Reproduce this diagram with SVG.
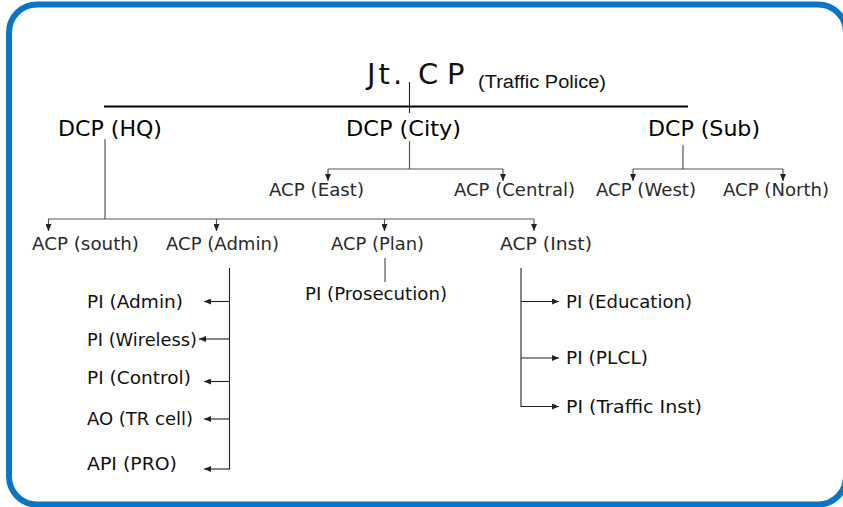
<svg xmlns="http://www.w3.org/2000/svg" width="843" height="507" viewBox="0 0 843 507">
<style>
.t{font-family:"DejaVu Sans","Verdana",sans-serif;fill:#111}
.dcp{font-size:21px;fill:#000}
.acp{font-size:18px;fill:#2a2a2a}
.pi{font-size:18px;fill:#111}
.c{stroke:#555;stroke-width:1.2;fill:none}
.k{stroke:#222;stroke-width:1.1;fill:none}
</style>
<defs>
<marker id="ah" markerUnits="userSpaceOnUse" markerWidth="8" markerHeight="6" refX="7" refY="3" orient="auto">
<path d="M0,0 L7,3 L0,6 z" fill="#222"/>
</marker>
</defs>
<rect x="9" y="4.5" width="837" height="500" rx="28" ry="28" fill="#fff" stroke="#0b75c5" stroke-width="6"/>

<g id="connectors">
<line x1="104" y1="106.5" x2="688" y2="106.5" stroke="#000" stroke-width="2"/>
<line class="k" x1="409.5" y1="82" x2="409.5" y2="113"/>
<!-- DCP HQ -->
<line class="c" x1="105" y1="139" x2="105" y2="219"/>
<line class="c" x1="48" y1="219" x2="534" y2="219"/>
<line class="c" x1="48.5" y1="219" x2="48.5" y2="231" marker-end="url(#ah)"/>
<line class="c" x1="216.5" y1="219" x2="216.5" y2="231" marker-end="url(#ah)"/>
<line class="c" x1="384.5" y1="219" x2="384.5" y2="231" marker-end="url(#ah)"/>
<line class="c" x1="534" y1="219" x2="534" y2="231" marker-end="url(#ah)"/>
<!-- DCP City -->
<line class="c" x1="409.5" y1="141" x2="409.5" y2="169"/>
<line class="c" x1="328" y1="169" x2="503" y2="169"/>
<line class="c" x1="328" y1="169" x2="328" y2="181" marker-end="url(#ah)"/>
<line class="c" x1="503" y1="169" x2="503" y2="181" marker-end="url(#ah)"/>
<!-- DCP Sub -->
<line class="c" x1="683" y1="145" x2="683" y2="169"/>
<line class="c" x1="633" y1="169" x2="783" y2="169"/>
<line class="c" x1="633" y1="169" x2="633" y2="181" marker-end="url(#ah)"/>
<line class="c" x1="783" y1="169" x2="783" y2="181" marker-end="url(#ah)"/>
<!-- ACP Plan -->
<line class="c" x1="385" y1="258" x2="385" y2="282"/>
<!-- ACP Admin -->
<line class="k" x1="229.5" y1="268" x2="229.5" y2="469.5"/>
<line class="k" x1="229.5" y1="301.5" x2="204" y2="301.5" marker-end="url(#ah)"/>
<line class="k" x1="229.5" y1="339" x2="199" y2="339" marker-end="url(#ah)"/>
<line class="k" x1="229.5" y1="381.5" x2="204" y2="381.5" marker-end="url(#ah)"/>
<line class="k" x1="229.5" y1="419" x2="204" y2="419" marker-end="url(#ah)"/>
<line class="k" x1="229.5" y1="469" x2="204" y2="469" marker-end="url(#ah)"/>
<!-- ACP Inst -->
<line class="k" x1="521" y1="268" x2="521" y2="407"/>
<line class="k" x1="521" y1="301.5" x2="559" y2="301.5" marker-end="url(#ah)"/>
<line class="k" x1="521" y1="358" x2="559" y2="358" marker-end="url(#ah)"/>
<line class="k" x1="521" y1="406.5" x2="559" y2="406.5" marker-end="url(#ah)"/>
</g>

<g id="jtcp">
<text class="t" y="84" font-size="29" fill="#000"><tspan x="367" letter-spacing="3">Jt.</tspan><tspan x="418">C</tspan><tspan x="447">P</tspan></text>
<text x="478" y="88" font-family="Liberation Sans, Arial, sans-serif" font-size="18" fill="#111" textLength="128" lengthAdjust="spacingAndGlyphs">(Traffic Police)</text>
</g>

<g id="dcp-hq"><text class="t dcp" x="58" y="136" textLength="104" lengthAdjust="spacingAndGlyphs">DCP (HQ)</text></g>
<g id="dcp-city"><text class="t dcp" x="346" y="136" textLength="115" lengthAdjust="spacingAndGlyphs">DCP (City)</text></g>
<g id="dcp-sub"><text class="t dcp" x="648" y="136" textLength="112" lengthAdjust="spacingAndGlyphs">DCP (Sub)</text></g>

<g id="acp-east"><text class="t acp" x="269" y="196" textLength="95" lengthAdjust="spacingAndGlyphs">ACP (East)</text></g>
<g id="acp-central"><text class="t acp" x="454" y="196" textLength="121" lengthAdjust="spacingAndGlyphs">ACP (Central)</text></g>
<g id="acp-west"><text class="t acp" x="596" y="196" textLength="100" lengthAdjust="spacingAndGlyphs">ACP (West)</text></g>
<g id="acp-north"><text class="t acp" x="723" y="196" textLength="106" lengthAdjust="spacingAndGlyphs">ACP (North)</text></g>

<g id="acp-south"><text class="t acp" x="32" y="250" textLength="107" lengthAdjust="spacingAndGlyphs">ACP (south)</text></g>
<g id="acp-admin"><text class="t acp" x="166" y="250" textLength="113" lengthAdjust="spacingAndGlyphs">ACP (Admin)</text></g>
<g id="acp-plan"><text class="t acp" x="331" y="250" textLength="93" lengthAdjust="spacingAndGlyphs">ACP (Plan)</text></g>
<g id="acp-inst"><text class="t acp" x="500" y="250" textLength="92" lengthAdjust="spacingAndGlyphs">ACP (Inst)</text></g>

<g id="pi-prosecution"><text class="t pi" x="305" y="300" textLength="142" lengthAdjust="spacingAndGlyphs">PI (Prosecution)</text></g>

<g id="pi-admin"><text class="t pi" x="87" y="308" textLength="96" lengthAdjust="spacingAndGlyphs">PI (Admin)</text></g>
<g id="pi-wireless"><text class="t pi" x="87" y="346" textLength="110" lengthAdjust="spacingAndGlyphs">PI (Wireless)</text></g>
<g id="pi-control"><text class="t pi" x="87" y="384" textLength="104" lengthAdjust="spacingAndGlyphs">PI (Control)</text></g>
<g id="ao-trcell"><text class="t pi" x="87" y="425" textLength="106" lengthAdjust="spacingAndGlyphs">AO (TR cell)</text></g>
<g id="api-pro"><text class="t pi" x="87" y="470" textLength="90" lengthAdjust="spacingAndGlyphs">API (PRO)</text></g>

<g id="pi-education"><text class="t pi" x="566" y="308" textLength="126" lengthAdjust="spacingAndGlyphs">PI (Education)</text></g>
<g id="pi-plcl"><text class="t pi" x="566" y="364" textLength="82" lengthAdjust="spacingAndGlyphs">PI (PLCL)</text></g>
<g id="pi-traffic-inst"><text class="t pi" x="566" y="413" textLength="136" lengthAdjust="spacingAndGlyphs">PI (Traffic Inst)</text></g>
</svg>
